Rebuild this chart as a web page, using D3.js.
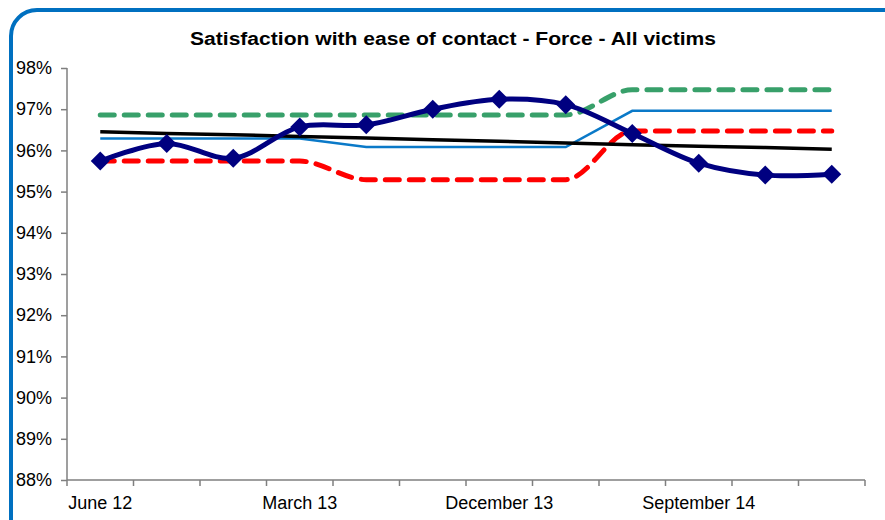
<!DOCTYPE html>
<html><head><meta charset="utf-8">
<script src="https://cdn.jsdelivr.net/npm/d3@7"></script>
<style>
html,body{margin:0;padding:0;background:#fff;}
svg{display:block;}
text{font-family:"Liberation Sans",Arial,sans-serif;}
</style></head>
<body>
<script>
const categories = ["June 12","September 12","December 12","March 13","June 13","September 13","December 13","March 14","June 14","September 14","December 14","March 15"];
const shownLabels = ["June 12","March 13","December 13","September 14"];
const yTicks = [88,89,90,91,92,93,94,95,96,97,98];
const forceValues = [95.74,96.17,95.81,96.57,96.62,97.00,97.24,97.11,96.41,95.69,95.40,95.42];
const upperLimit = [96.86,96.86,96.86,96.86,96.86,96.86,96.86,96.86,97.47,97.47,97.47,97.47];
const mean = [96.29,96.29,96.29,96.29,96.08,96.08,96.08,96.08,96.96,96.96,96.96,96.96];
const lowerLimit = [95.74,95.74,95.74,95.74,95.29,95.29,95.29,95.29,96.47,96.47,96.47,96.47];
const trend = [96.45,96.41,96.38,96.34,96.30,96.26,96.22,96.18,96.14,96.10,96.07,96.03];
const title = "Satisfaction with ease of contact - Force - All victims";

const W=885,H=520;
const svg=d3.select("body").append("svg").attr("width",W).attr("height",H);
svg.append("rect").attr("x",11).attr("y",10).attr("width",900).attr("height",540)
  .attr("rx",26).attr("ry",26).attr("fill","#fff").attr("stroke","#0070C0").attr("stroke-width",4);

const m={left:67,right:865,top:68,bottom:480};
const x=d3.scaleBand().domain(categories).range([m.left,m.right]);
const y=d3.scaleLinear().domain([88,98]).range([m.bottom,m.top]);
const cx=d=>x(d)+x.bandwidth()/2;

svg.append("text").attr("x",453).attr("y",45).attr("text-anchor","middle")
  .attr("font-size",18).attr("font-weight","bold").attr("fill","#000")
  .attr("textLength",526).attr("lengthAdjust","spacingAndGlyphs").text(title);

const yAxis=svg.append("g").attr("transform",`translate(${m.left},0)`)
  .call(d3.axisLeft(y).tickValues(yTicks).tickSize(6).tickPadding(9).tickFormat(d=>d+"%"));
const xAxis=svg.append("g").attr("transform",`translate(0,${m.bottom})`)
  .call(d3.axisBottom(x).tickSize(6).tickPadding(7).tickFormat(d=>shownLabels.includes(d)?d:""));
xAxis.selectAll(".tick line").remove();
xAxis.selectAll(".tick text").attr("dy","0.9em");
const edges=categories.map(c=>x(c)).concat([m.right]);
xAxis.selectAll(".edge").data(edges).enter().append("line").attr("class","edge")
  .attr("x1",d=>d).attr("x2",d=>d).attr("y1",0).attr("y2",6);
[yAxis,xAxis].forEach(g=>{
  g.select(".domain").attr("stroke","#7f7f7f").attr("stroke-width",1.5);
  g.selectAll("line").attr("stroke","#7f7f7f").attr("stroke-width",1.5);
  g.selectAll("text").attr("font-size",18).attr("fill","#000").attr("font-family","Liberation Sans, Arial, sans-serif");
});
xAxis.select(".domain").attr("d",`M${m.left},0H${m.right}`);
yAxis.select(".domain").attr("d",`M0,${m.top}V${m.bottom}`);

const smooth=d3.line().x((d,i)=>cx(categories[i])).y(d=>y(d)).curve(d3.curveCatmullRom.alpha(0.5));
const smoothFlat=d3.line().x((d,i)=>cx(categories[i])).y(d=>y(d)).curve(d3.curveMonotoneX);
const straight=d3.line().x((d,i)=>cx(categories[i])).y(d=>y(d));

svg.append("path").attr("d",smoothFlat(upperLimit)).attr("fill","none").attr("stroke","#38A06A")
  .attr("stroke-width",5).attr("stroke-dasharray","14,10").attr("stroke-linecap","round");
svg.append("path").attr("d",straight(mean)).attr("fill","none").attr("stroke","#0A79C8").attr("stroke-width",2.5);
svg.append("path").attr("d",smoothFlat(lowerLimit)).attr("fill","none").attr("stroke","#FF0000")
  .attr("stroke-width",5).attr("stroke-dasharray","14,10").attr("stroke-linecap","round");
svg.append("path").attr("d",straight(trend)).attr("fill","none").attr("stroke","#000").attr("stroke-width",3.5);
svg.append("path").attr("d",smooth(forceValues)).attr("fill","none").attr("stroke","#000080").attr("stroke-width",5);
svg.selectAll(".dia").data(forceValues).enter().append("path")
  .attr("transform",(d,i)=>`translate(${cx(categories[i])},${y(d)})`)
  .attr("d","M0,-9.5L9.5,0L0,9.5L-9.5,0Z").attr("fill","#000080");
</script>
</body></html>
